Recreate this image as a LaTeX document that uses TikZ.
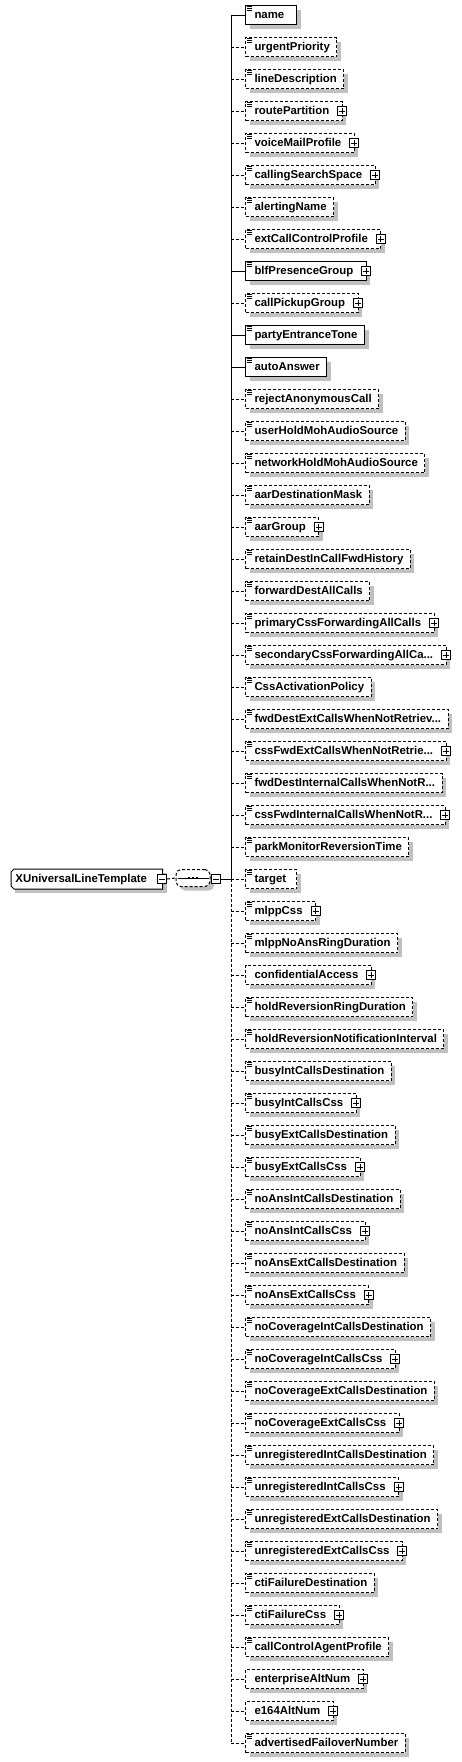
\documentclass[tikz,border=0pt]{standalone}
\usepackage{fontspec}
\setmainfont{Liberation Sans}
\usetikzlibrary{shadows,backgrounds}
\definecolor{shadowgray}{RGB}{192,192,192}
\newcommand\tdots{...}
\newcommand\padtext[1]{\setbox0\hbox{#1}\ifdim\wd0<35pt \hbox to 35pt{\box0\hfil}\else\box0\fi}
\begin{document}
\begin{tikzpicture}[x=1pt,y=1pt,line width=1pt,
  req/.style={solid},
  opt/.style={dash pattern=on 3pt off 2pt},
  shadowed/.style={drop shadow={shadow xshift=4pt,shadow yshift=-4pt,fill=shadowgray,opacity=1}},
  elfont/.style={font=\bfseries\fontsize{11.4}{13}\selectfont},
  elbox/.style={draw,fill=white,shadowed,elfont,inner xsep=0pt,inner ysep=0pt,
    minimum height=19pt,text height=9pt,text depth=2pt,anchor=west},
  pmbox/.style={draw,solid,fill=white,minimum size=9pt,inner sep=0pt},
  icon/.style={line width=1pt,solid}]
\useasboundingbox (0,0) rectangle (461,-1762);

\foreach \nm/\kd/\pl/\ic [count=\idx from 0] in {
 name/req/0/1, urgentPriority/opt/0/1, lineDescription/opt/0/1,
 routePartition/opt/1/1, voiceMailProfile/opt/1/1, callingSearchSpace/opt/1/1,
 alertingName/opt/0/1, extCallControlProfile/opt/1/1, blfPresenceGroup/req/1/1,
 callPickupGroup/opt/1/1, partyEntranceTone/req/0/1, autoAnswer/req/0/1,
 rejectAnonymousCall/opt/0/1, userHoldMohAudioSource/opt/0/1,
 networkHoldMohAudioSource/opt/0/1, aarDestinationMask/opt/0/1, aarGroup/opt/1/1,
 retainDestInCallFwdHistory/opt/0/1, forwardDestAllCalls/opt/0/1,
 primaryCssForwardingAllCalls/opt/1/1, secondaryCssForwardingAllCa\tdots/opt/1/1,
 CssActivationPolicy/opt/0/1, fwdDestExtCallsWhenNotRetriev\tdots/opt/0/1,
 cssFwdExtCallsWhenNotRetrie\tdots/opt/1/1, fwdDestInternalCallsWhenNotR\tdots/opt/0/1,
 cssFwdInternalCallsWhenNotR\tdots/opt/1/1, parkMonitorReversionTime/opt/0/1,
 target/opt/0/1, mlppCss/opt/1/1, mlppNoAnsRingDuration/opt/0/1,
 confidentialAccess/opt/1/0, holdReversionRingDuration/opt/0/1,
 holdReversionNotificationInterval/opt/0/1, busyIntCallsDestination/opt/0/1,
 busyIntCallsCss/opt/1/1, busyExtCallsDestination/opt/0/1, busyExtCallsCss/opt/1/1,
 noAnsIntCallsDestination/opt/0/1, noAnsIntCallsCss/opt/1/1,
 noAnsExtCallsDestination/opt/0/1, noAnsExtCallsCss/opt/1/1,
 noCoverageIntCallsDestination/opt/0/1, noCoverageIntCallsCss/opt/1/1,
 noCoverageExtCallsDestination/opt/0/1, noCoverageExtCallsCss/opt/1/1,
 unregisteredIntCallsDestination/opt/0/1, unregisteredIntCallsCss/opt/1/1,
 unregisteredExtCallsDestination/opt/0/1, unregisteredExtCallsCss/opt/1/1,
 ctiFailureDestination/opt/0/1, ctiFailureCss/opt/1/1,
 callControlAgentProfile/opt/0/1, enterpriseAltNum/opt/1/0, e164AltNum/opt/1/0,
 advertisedFailoverNumber/opt/0/1}{
  \pgfmathsetmacro\yy{-15-32*\idx}
  \coordinate (j\idx) at (231,\yy);
  \node[elbox,\kd] (e\idx) at (245,\yy) {\hspace*{9pt}\padtext{\nm}\hspace*{\ifnum\pl=1 13pt\else 7pt\fi}};
  \draw[\kd] (j\idx) -- (e\idx.west);
  \ifnum\ic=1
    \foreach \d in {1.5,3.5,5.5}{\draw[icon] ([xshift=2pt,yshift=-\d pt]e\idx.north west) -- ++(5,0);}
  \fi
  \ifnum\pl=1
    \node[pmbox] (p\idx) at ([xshift=-0.5pt]e\idx.east) {};
    \draw[solid] ([xshift=-3pt]p\idx.center) -- ([xshift=3pt]p\idx.center)
                 ([yshift=-3pt]p\idx.center) -- ([yshift=3pt]p\idx.center);
  \fi
}

% trunk
\draw[req] (j0) -- (j27);
\draw[opt] (j27) -- (j54);

% root complex type
\node[elfont,inner xsep=0pt,inner ysep=0pt,minimum height=19pt,text height=9pt,text depth=2pt,anchor=west]
  (root) at (11,-879) {\hspace*{4pt}XUniversalLineTemplate\hspace*{15pt}};
\begin{scope}[on background layer]
  \fill[shadowgray] ([shift={(4pt,-4pt)}]root.north west) rectangle ([shift={(4pt,-4pt)}]root.south east);
  \fill[white] (root.north west) rectangle (root.south east);
\end{scope}
\draw (root.north east) -- ([xshift=3pt]root.north west) -- ([yshift=-3pt]root.north west)
  -- ([yshift=3pt]root.south west) -- ([xshift=3pt]root.south west) -- (root.south east) -- cycle;
\node[pmbox] (rm) at ([xshift=-0.5pt]root.east) {};
\draw ([xshift=-3pt]rm.center) -- ([xshift=3pt]rm.center);

% sequence compositor
\node[draw,opt,rounded corners=5pt,fill=white,shadowed,minimum width=34pt,minimum height=17pt,inner sep=0pt]
  (seq) at (193,-878) {};
\draw[solid] ([xshift=2pt]seq.west) -- ([xshift=-2pt]seq.east);
\foreach \dx in {-4,0,4}{\fill ([xshift=\dx pt]seq.center) ++(-1.3,-1.3) rectangle ++(2.6,2.6);}
\node[pmbox] (sm) at (215.5,-879) {};
\draw ([xshift=-3pt]sm.center) -- ([xshift=3pt]sm.center);
\draw[opt] (rm.east) -- (seq.west);
\draw[req] (sm.east) -- (j27);
\end{tikzpicture}
\end{document}
